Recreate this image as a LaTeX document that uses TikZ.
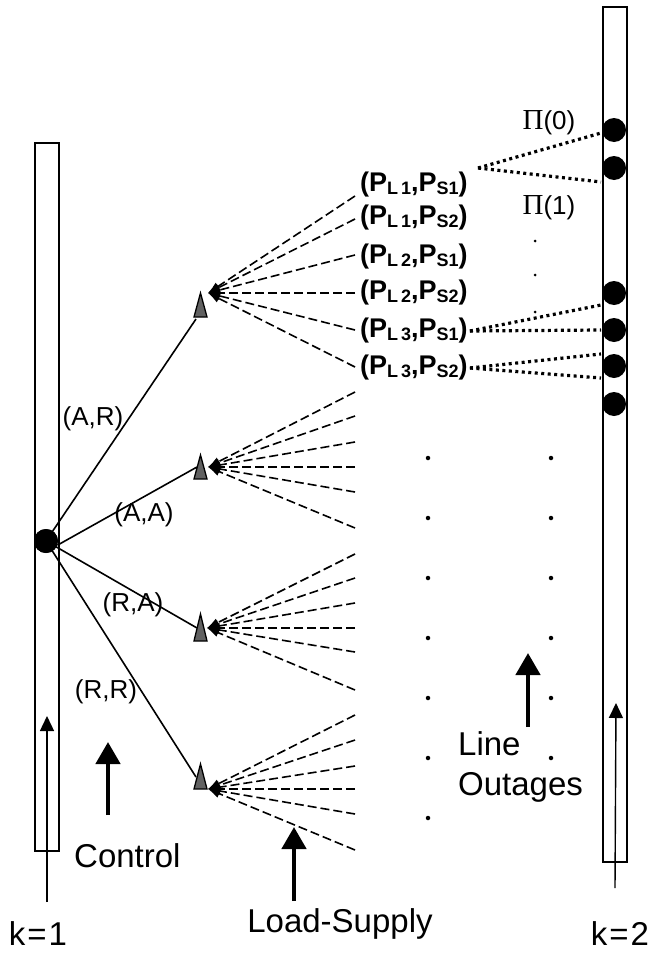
\documentclass[tikz,border=0pt]{standalone}
\usepackage{fontspec}
\setmainfont{Liberation Sans}
\newfontfamily\greekserif{Liberation Serif}
\usetikzlibrary{arrows.meta}
% subscript used in the bold load/supply pairs
\newcommand{\lsub}[1]{\raisebox{-2.5pt}{\fontsize{18}{18}\selectfont #1}}
\begin{document}
\begin{tikzpicture}[x=1pt,y=-1pt,
  bar/.style={draw, line width=1.8pt, minimum width=24pt, inner sep=0pt},
  bigdot/.style={circle, fill=black, minimum size=24pt, inner sep=0pt},
  tinydot/.style={circle, fill=black, minimum size=4.5pt, inner sep=0pt},
  smalldot/.style={circle, fill=black, minimum size=3pt, inner sep=0pt},
  branch/.style={line width=1.6pt},
  fanline/.style={line width=1.6pt, dash pattern=on 9pt off 4pt, -{Latex[length=12pt,width=9pt]}},
  outage/.style={line width=3.2pt, dash pattern=on 3pt off 3.5pt},
  thinarrow/.style={line width=1.4pt, -{Triangle[length=15pt,width=14pt]}},
  bigarrow/.style={line width=4.6pt, -{Triangle[length=22pt,width=24pt]}},
  lbl/.style={font=\fontsize{26}{30}\selectfont, inner sep=0pt},
  plbl/.style={font=\fontsize{27}{30}\selectfont\bfseries, inner sep=0pt, anchor=west},
  txt/.style={font=\fontsize{33}{40}\selectfont, inner sep=0pt},
  tri/.style={draw, line width=1.3pt, fill=black!62, line join=miter}
]
\useasboundingbox (0,0) rectangle (660,953);

% stage bars
\node[bar, minimum height=708pt] (bar1) at (47,497) {};
\node[bar, minimum height=855pt] (bar2) at (615,434.5) {};

% time arrows running up through the bars
\coordinate (k1s) at (47,902);
\coordinate (k1e) at (47,716);
\draw[thinarrow] (k1s) -- (k1e);
\coordinate (k2s) at (615,888);
\coordinate (k2e) at (616,703);
\draw[thinarrow] (k2s) -- (k2e);

% control decision triangles
\draw[tri] (194,317) -- (200.5,293) -- (207,317) -- cycle;
\draw[tri] (194,479) -- (200.5,455) -- (207,479) -- cycle;
\draw[tri] (194,641) -- (200.5,614) -- (207,641) -- cycle;
\draw[tri] (194,789) -- (200.5,764) -- (207,789) -- cycle;
\coordinate (a1) at (196,319);
\coordinate (a2) at (197,467);
\coordinate (a3) at (197,628);
\coordinate (a4) at (196,777);

% state node at k=1
\node[bigdot] (s0) at (46,541) {};
\draw[branch] (s0.center) -- (a1);
\draw[branch] (s0.-20) -- (a2);
\draw[branch] (s0.center) -- (a3);
\draw[branch] (s0.center) -- (a4);
\node[bigdot] at (s0) {};

% control labels
\node[lbl] (ar) at (93,419) {(A,R)};
\node[lbl] (aa) at (144,515) {(A,A)};
\node[lbl] (ra) at (133,605) {(R,A)};
\node[lbl] (rr) at (106,692) {(R,R)};

% load-supply fans
\coordinate (o1) at (208,293);
\coordinate (o2) at (208,467);
\coordinate (o3) at (207,628);
\coordinate (o4) at (208,789);
\foreach \y [count=\i] in {196,219,255,293,330,367} {
  \coordinate (e1\i) at (355,\y);
  \draw[fanline] (e1\i) -- (o1);
}
\foreach \y [count=\i] in {392,416,442,467,492,528} {
  \coordinate (e2\i) at (355,\y);
  \draw[fanline] (e2\i) -- (o2);
}
\foreach \y [count=\i] in {554,578,603,628,652,690} {
  \coordinate (e3\i) at (355,\y);
  \draw[fanline] (e3\i) -- (o3);
}
\foreach \y [count=\i] in {715,740,766,789,814,850} {
  \coordinate (e4\i) at (355,\y);
  \draw[fanline] (e4\i) -- (o4);
}

% load-supply pairs
\node[plbl] (p11) at (360,185) {(P\lsub{L\,1},P\lsub{S1})};
\node[plbl] (p12) at (360,218) {(P\lsub{L\,1},P\lsub{S2})};
\node[plbl] (p21) at (360,257) {(P\lsub{L\,2},P\lsub{S1})};
\node[plbl] (p22) at (360,293) {(P\lsub{L\,2},P\lsub{S2})};
\node[plbl] (p31) at (360,331) {(P\lsub{L\,3},P\lsub{S1})};
\node[plbl] (p32) at (360,368) {(P\lsub{L\,3},P\lsub{S2})};

% states at k=2
\foreach \y [count=\i from 0] in {130,168,293,330,366,404}
  \node[bigdot] (d\i) at (614,\y) {};

% line outage transitions
\coordinate (q0) at (601,133);
\coordinate (q1) at (601,182);
\coordinate (q2) at (601,305);
\coordinate (q3) at (601,330);
\coordinate (q4) at (601,354);
\coordinate (q5) at (601,378);
\coordinate (p11o) at (478,168);
\draw[outage] (p11o) -- (q0);
\draw[outage] (p11o) -- (q1);
\draw[outage] ([xshift=2pt]p31.east) -- (q2);
\draw[outage] ([xshift=2pt]p31.east) -- (q3);
\draw[outage] ([xshift=2pt]p32.east) -- (q4);
\draw[outage] ([xshift=2pt]p32.east) -- (q5);

% outage probabilities
\node[lbl] (pi0) at (549,123) {{\greekserif\fontsize{29}{30}\selectfont Π}(0)};
\node[lbl] (pi1) at (549,208) {{\greekserif\fontsize{29}{30}\selectfont Π}(1)};
\node[smalldot] (v1) at (535,241) {};
\node[smalldot] (v2) at (535,275) {};
\node[smalldot] (v3) at (535,312) {};

% continuation dots
\foreach \y [count=\i] in {458,518,578,638,698,758,818}
  \node[tinydot] (g\i) at (428,\y) {};
\foreach \y [count=\i] in {458,518,578,638,698,758}
  \node[tinydot] (h\i) at (551,\y) {};

% stage captions with arrows
\coordinate (c1s) at (108,815);
\coordinate (c1e) at (108,742);
\draw[bigarrow] (c1s) -- (c1e);
\coordinate (c2s) at (294,901);
\coordinate (c2e) at (294,827);
\draw[bigarrow] (c2s) -- (c2e);
\coordinate (c3s) at (528,727);
\coordinate (c3e) at (528,653);
\draw[bigarrow] (c3s) -- (c3e);

\node[txt, anchor=base west] (control) at (74,867) {Control};
\node[txt, anchor=base west] (line1) at (458,755) {Line};
\node[txt, anchor=base west] (line2) at (458,795) {Outages};
\node[txt, anchor=base] (ls) at (340,932) {Load-Supply};
\node[txt, anchor=base] (k1) at (38,945) {k\kern2pt=\kern2pt1};
\node[txt, anchor=base] (k2) at (620,945) {k\kern2pt=\kern2pt2};
\end{tikzpicture}
\end{document}
